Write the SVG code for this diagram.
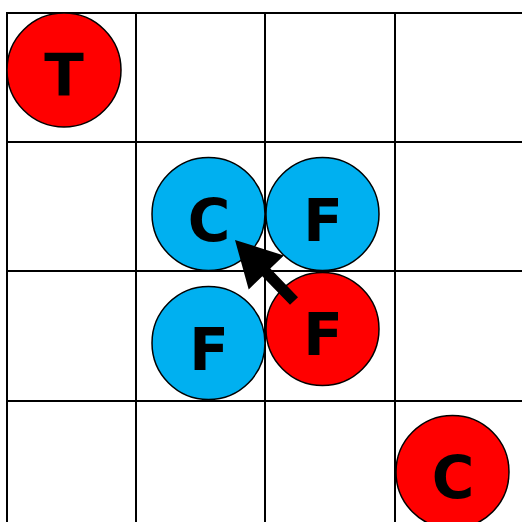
<svg xmlns="http://www.w3.org/2000/svg" width="522" height="522" viewBox="0 0 522 522">
<style>
.grid line{stroke:#000;stroke-width:2}
.red{fill:#ff0000;stroke:#000;stroke-width:1.5}
.blue{fill:#00b0f0;stroke:#000;stroke-width:1.5}
text{font-family:"DejaVu Sans",sans-serif;font-weight:bold;font-size:58px;text-anchor:middle;fill:#000}
</style>
<rect width="522" height="522" fill="#fff"/>
<g class="grid">
<line x1="7" y1="12" x2="7" y2="522"/>
<line x1="136" y1="12" x2="136" y2="522"/>
<line x1="265" y1="12" x2="265" y2="522"/>
<line x1="395" y1="12" x2="395" y2="522"/>
<line x1="6" y1="13" x2="522" y2="13"/>
<line x1="6" y1="142" x2="522" y2="142"/>
<line x1="6" y1="271" x2="522" y2="271"/>
<line x1="6" y1="401" x2="522" y2="401"/>
</g>
<g id="t1"><circle class="red" cx="64" cy="70" r="57"/><text x="64" y="96">T</text></g>
<g id="c1"><circle class="blue" cx="208.5" cy="214" r="56.5"/><text x="209" y="241">C</text></g>
<g id="f1"><circle class="blue" cx="322.5" cy="214" r="56.5"/><text x="323" y="241">F</text></g>
<g id="f2"><circle class="blue" cx="208.5" cy="343" r="56.5"/><text x="209" y="370">F</text></g>
<g id="f3"><circle class="red" cx="322.5" cy="329" r="56.5"/><text x="323" y="355">F</text></g>
<g id="c2"><circle class="red" cx="452.5" cy="472" r="56.5"/><text x="453" y="498">C</text></g>
<g id="connectors">
<polygon points="235,240 283.9,255.4 270.3,268.6 298,297.2 290,304.8 262.3,276.2 248.7,289.4" fill="#000"/>
</g>
</svg>
